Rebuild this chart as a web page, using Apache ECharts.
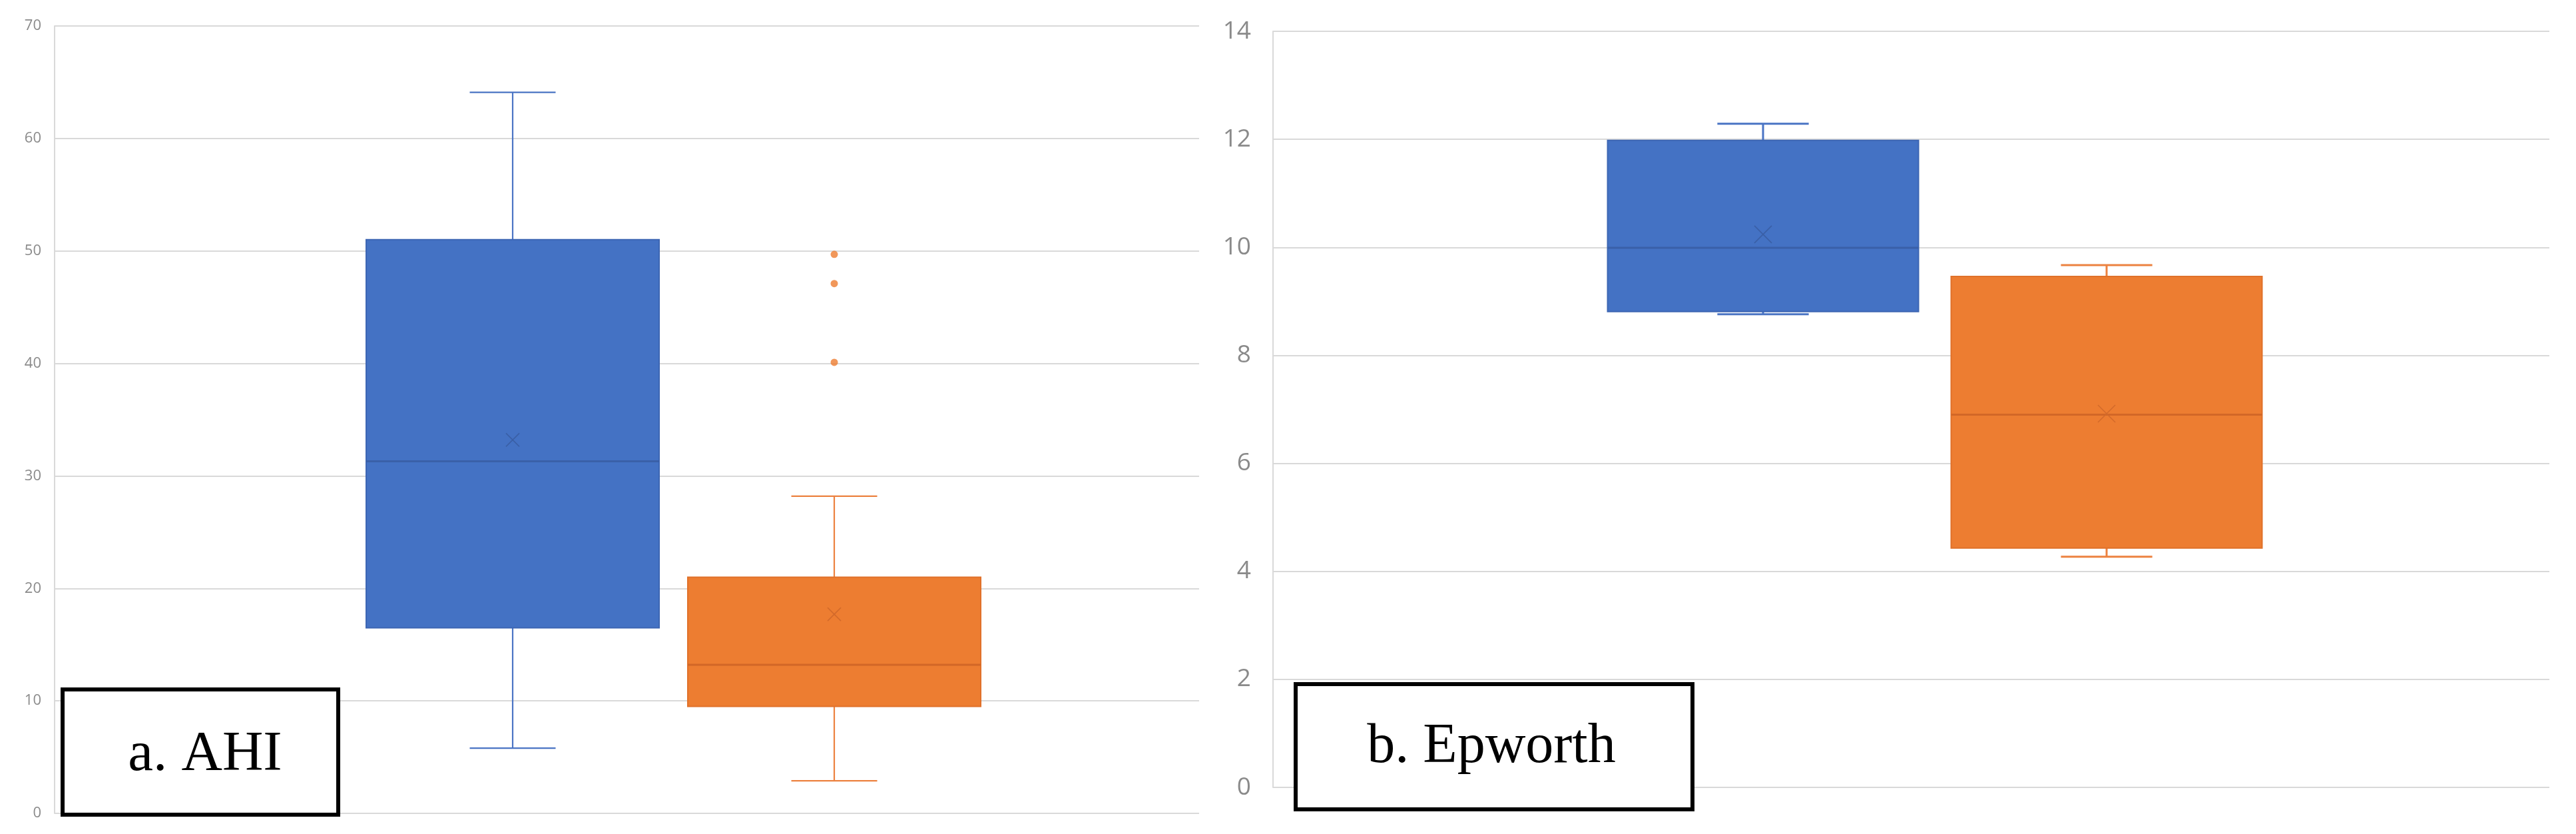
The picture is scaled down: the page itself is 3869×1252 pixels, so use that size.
<!DOCTYPE html>
<html>
<head>
<meta charset="utf-8">
<script src="https://cdn.jsdelivr.net/npm/echarts@6/dist/echarts.min.js"></script>
<style>
html,body{margin:0;padding:0;background:#fff;}
#chart{width:3869px;height:1252px;}
</style>
</head>
<body>
<div id="chart"></div>
<script>
// ---------- data ----------
const groups = ['Group 1', 'Group 2'];
// [min, Q1, median, Q3, max]
const ahiBox = [[5.8, 16.5, 31.3, 51.0, 64.1], [2.9, 9.5, 13.2, 21.0, 28.2]];
const ahiMean = [33.2, 17.7];
const ahiOutliers = [[], [40.1, 47.1, 49.7]];
const epworthBox = [[8.76, 8.81, 9.99, 11.98, 12.29], [4.27, 4.43, 6.90, 9.46, 9.67]];
const epworthMean = [10.24, 6.92];
const ahiAxis = {min: 0, max: 70, interval: 10};
const epworthAxis = {min: 0, max: 14, interval: 2};
const panelTitles = ['a. AHI', 'b. Epworth'];

// ---------- styles ----------
const palette = [
  {fill: '#4472C4', edge: '#3D66B3', median: '#3A60A8', whisker: '#4A74C4', mean: '#3A5FA6'},
  {fill: '#ED7D31', edge: '#E0712A', median: '#D26727', whisker: '#EC8240', mean: '#D36A2B'}
];

function boxData(box, mean) {
  return box.map((b, i) => [i, b[0], b[1], b[2], b[3], b[4], mean[i]]);
}

function makeRender(opt) {
  return function (params, api) {
    const c = api.value(0);
    const band = api.size([1, 0])[0];
    const bw = band * opt.boxRatio;
    const cw = band * opt.capRatio;
    const p = k => api.coord([c, api.value(k)]);
    const pMin = p(1), pQ1 = p(2), pMed = p(3), pQ3 = p(4), pMax = p(5), pMean = p(6);
    const x = pMin[0];
    const col = palette[params.dataIndex];
    const wl = {stroke: col.whisker, lineWidth: opt.whiskerWidth, fill: null};
    const m = opt.meanSize;
    return {
      type: 'group',
      children: [
        {type: 'line', shape: {x1: x, y1: pMax[1], x2: x, y2: pQ3[1]}, style: wl},
        {type: 'line', shape: {x1: x, y1: pQ1[1], x2: x, y2: pMin[1]}, style: wl},
        {type: 'line', shape: {x1: x - cw / 2, y1: pMax[1], x2: x + cw / 2, y2: pMax[1]}, style: wl},
        {type: 'line', shape: {x1: x - cw / 2, y1: pMin[1], x2: x + cw / 2, y2: pMin[1]}, style: wl},
        {type: 'rect', shape: {x: x - bw / 2, y: pQ3[1], width: bw, height: pQ1[1] - pQ3[1]},
          style: {fill: col.fill, stroke: col.edge, lineWidth: 2}},
        {type: 'line', shape: {x1: x - bw / 2, y1: pMed[1], x2: x + bw / 2, y2: pMed[1]},
          style: {stroke: col.median, lineWidth: 3}},
        {type: 'line', shape: {x1: x - m, y1: pMean[1] - m, x2: x + m, y2: pMean[1] + m},
          style: {stroke: col.mean, lineWidth: 1.6}},
        {type: 'line', shape: {x1: x - m, y1: pMean[1] + m, x2: x + m, y2: pMean[1] - m},
          style: {stroke: col.mean, lineWidth: 1.6}}
      ]
    };
  };
}

const gridLine = {show: true, lineStyle: {color: '#D9D9D9', width: 2}};
function visibleY(ax, fontSize, margin, gi) {
  return {
    type: 'value', gridIndex: gi, min: ax.min, max: ax.max, interval: ax.interval,
    axisLine: {show: true, lineStyle: {color: '#D9D9D9', width: 2}},
    axisTick: {show: false},
    axisLabel: {fontSize: fontSize, color: '#8A8A8A', margin: margin, fontFamily: 'Open Sans'},
    splitLine: gridLine
  };
}
function hiddenY(ax, gi) {
  return {type: 'value', gridIndex: gi, min: ax.min, max: ax.max, interval: ax.interval, show: false, splitLine: {show: false}};
}

const outlierData = [];
ahiOutliers.forEach((arr, i) => arr.forEach(v => outlierData.push([i, v])));

const option = {
  backgroundColor: '#ffffff',
  animation: false,
  grid: [
    {left: 82, top: 39, width: 1719, height: 1182, containLabel: false},
    {left: 528.5, top: 39, width: 966, height: 1182, containLabel: false},
    {left: 1912, top: 47, width: 1917, height: 1135, containLabel: false},
    {left: 2390, top: 47, width: 1032, height: 1135, containLabel: false}
  ],
  xAxis: [
    {type: 'category', gridIndex: 0, data: [''], show: false},
    {type: 'category', gridIndex: 1, data: groups, show: false},
    {type: 'category', gridIndex: 2, data: [''], show: false},
    {type: 'category', gridIndex: 3, data: groups, show: false}
  ],
  yAxis: [
    visibleY(ahiAxis, 22, 20, 0),
    hiddenY(ahiAxis, 1),
    visibleY(epworthAxis, 37, 33, 2),
    hiddenY(epworthAxis, 3)
  ],
  series: [
    {
      type: 'custom', name: 'AHI', xAxisIndex: 1, yAxisIndex: 1,
      renderItem: makeRender({boxRatio: 0.911, capRatio: 0.267, whiskerWidth: 2.2, meanSize: 10}),
      data: boxData(ahiBox, ahiMean), z: 2
    },
    {
      type: 'scatter', name: 'AHI outliers', xAxisIndex: 1, yAxisIndex: 1,
      symbol: 'circle', symbolSize: 11,
      itemStyle: {color: '#ED7D31'},
      data: outlierData, z: 3
    },
    {
      type: 'custom', name: 'Epworth', xAxisIndex: 3, yAxisIndex: 3,
      renderItem: makeRender({boxRatio: 0.905, capRatio: 0.266, whiskerWidth: 3, meanSize: 13}),
      data: boxData(epworthBox, epworthMean), z: 2
    }
  ],
  graphic: [
    {type: 'rect', z: 100, shape: {x: 94, y: 1035, width: 414, height: 188},
      style: {fill: '#ffffff', stroke: '#000000', lineWidth: 6}},
    {type: 'text', z: 101, x: 308, y: 1134,
      style: {text: panelTitles[0], font: '85px "Liberation Serif", serif', fill: '#000', align: 'center', verticalAlign: 'middle'}},
    {type: 'rect', z: 100, shape: {x: 1946, y: 1027, width: 596, height: 188},
      style: {fill: '#ffffff', stroke: '#000000', lineWidth: 6}},
    {type: 'text', z: 101, x: 2240, y: 1122,
      style: {text: panelTitles[1], font: '84px "Liberation Serif", serif', fill: '#000', align: 'center', verticalAlign: 'middle'}}
  ]
};

const chart = echarts.init(document.getElementById('chart'), null, {renderer: 'canvas'});
chart.setOption(option);
</script>
</body>
</html>
